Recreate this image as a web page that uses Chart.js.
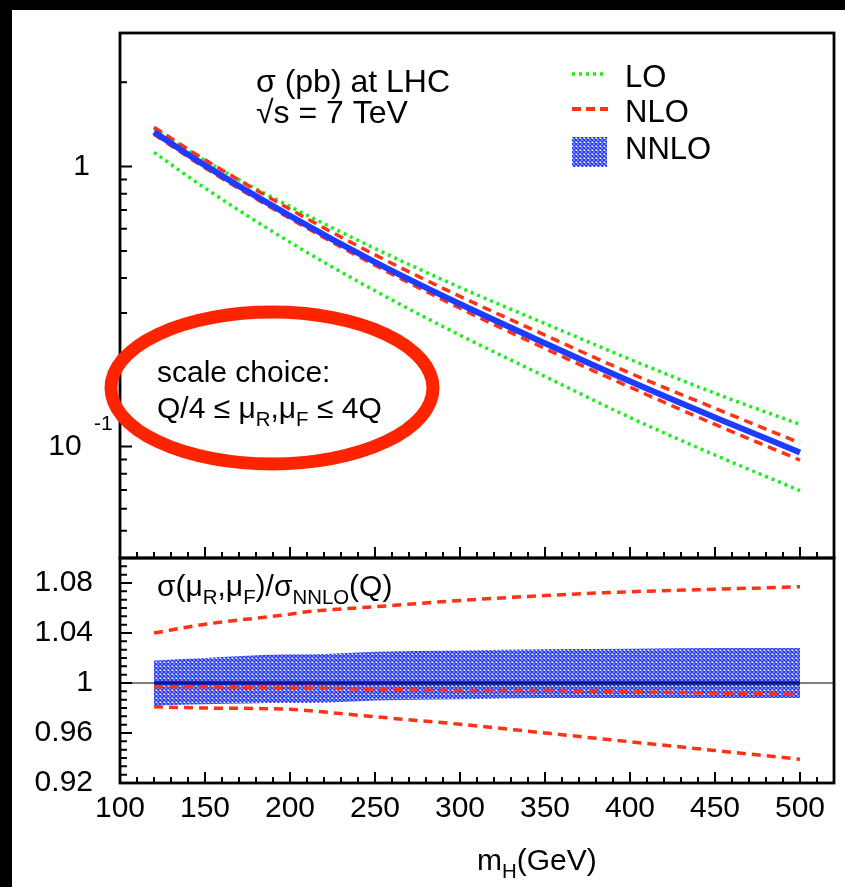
<!DOCTYPE html>
<html>
<head>
<meta charset="utf-8">
<script src="https://cdn.jsdelivr.net/npm/chart.js@4.4.0/dist/chart.umd.min.js"></script>
<style>
html, body { margin: 0; padding: 0; background: #000; width: 845px; height: 887px; overflow: hidden; }
#paper { position: absolute; left: 12px; top: 10px; width: 833px; height: 877px; background: #fff; }
canvas { position: absolute; left: 0; }
</style>
</head>
<body>
<div id="paper"></div>
<canvas id="chart-top" width="845" height="560" style="top:0px"></canvas>
<canvas id="chart-ratio" width="845" height="347" style="top:540px"></canvas>
<script>
FONT = '"Liberation Sans", Arial, sans-serif'

// m_H (GeV) -> sigma (pb), upper panel
MASS = [120, 150, 200, 250, 300, 350, 400, 450, 500]
NNLO_XS = [1.33, 1.01, 0.667, 0.456, 0.323, 0.234, 0.171, 0.127, 0.0953]
LO_UP = [1.37, 1.05, 0.72, 0.51, 0.37, 0.275, 0.205, 0.155, 0.12]
LO_DN = [1.124, 0.838, 0.537, 0.360, 0.250, 0.178, 0.127, 0.0933, 0.0696]
NLO_UP = [1.383, 1.057, 0.704, 0.484, 0.344, 0.250, 0.183, 0.137, 0.103]
NLO_DN = [1.305, 0.99, 0.653, 0.444, 0.312, 0.224, 0.163, 0.120, 0.0895]

// ratio panel sigma(muR,muF)/sigma_NNLO(Q)
RATIO_MASS = [120, 150, 200, 210, 250, 300, 350, 400, 450, 500]
NLO_UP_R = [1.040, 1.047, 1.055, 1.057, 1.061, 1.066, 1.070, 1.073, 1.075, 1.077]
NLO_MID_R = [0.997, 0.997, 0.996, 0.996, 0.995, 0.994, 0.994, 0.993, 0.992, 0.991]
NLO_DN_R = [0.981, 0.980, 0.979, 0.978, 0.973, 0.967, 0.960, 0.953, 0.946, 0.939]
NNLO_UP_R = [1.018, 1.020, 1.023, 1.023, 1.025, 1.026, 1.027, 1.0275, 1.028, 1.028]
NNLO_DN_R = [0.982, 0.983, 0.984, 0.984, 0.986, 0.987, 0.988, 0.988, 0.988, 0.988]
NNLO_MID_R = [1, 1, 1, 1, 1, 1, 1, 1, 1, 1]
UNITY_X = [100, 520]
UNITY_Y = [1, 1]

// axes
X_MIN = 100
X_MAX = 520
X_TICKS = [100, 150, 200, 250, 300, 350, 400, 450, 500]
Y_TOP_TICKS = [0.1, 1]
Y_TOP_LABELS = ['10 ', '1']
Y_TOP_MINOR = [0.04, 0.05, 0.06, 0.07, 0.08, 0.09, 0.2, 0.3, 0.4, 0.5, 0.6, 0.7, 0.8, 0.9, 2, 3]
Y_BOT_TICKS = [0.92, 0.96, 1, 1.04, 1.08]
Y_BOT_LABELS = ['0.92', '0.96', '1', '1.04', '1.08']

GREEN = '#19f019'
RED = '#ff3214'
BLUE = '#1e3cff'

function pts(xs, ys) {
    return xs.map((x, i) => ({x: x, y: ys[i]}))
}

function hatch() {
    var c = document.createElement('canvas')
    c.width = 4; c.height = 4
    var g = c.getContext('2d')
    g.strokeStyle = '#2436ff'
    g.lineWidth = 1.5
    g.beginPath()
    g.moveTo(0, 0); g.lineTo(4, 4)
    g.moveTo(4, 0); g.lineTo(0, 4)
    g.stroke()
    return g.createPattern(c, 'repeat')
}
HATCH = hatch()

function line(label, data, color, width, dash) {
    return {
        label: label,
        data: data,
        borderColor: color,
        borderWidth: width,
        borderDash: dash || [],
        pointRadius: 0,
        fill: false,
        cubicInterpolationMode: 'monotone'
    }
}

// text with sub/superscripts: parts = [[text, 0|1|2]]  1=sub 2=sup
function rich(ctx, x, y, parts, size) {
    ctx.textBaseline = 'alphabetic'
    ctx.textAlign = 'left'
    ctx.fillStyle = '#000'
    parts.forEach(p => {
        var s = p[1] ? size * 0.68 : size
        ctx.font = s + 'px ' + FONT
        var dy = p[1] == 1 ? size * 0.27 : (p[1] == 2 ? -size * 0.42 : 0)
        ctx.fillText(p[0], x, y + dy)
        x += ctx.measureText(p[0]).width
    })
}

function xMinorTicks() {
    var t = []
    for (var v = X_MIN; v <= X_MAX; v += 10) t.push(v)
    return t
}

function noPad(s) {
    s.paddingTop = 0
    s.paddingBottom = 0
    s.paddingLeft = 0
    s.paddingRight = 0
}

function frameAndTicks(chart, leftMajor, leftMinor, bottom) {
    var ctx = chart.ctx
    var a = chart.chartArea
    var xs = chart.scales.x, ys = chart.scales.y
    ctx.save()
    ctx.strokeStyle = '#000'
    ctx.lineWidth = 2
    ctx.beginPath()
    leftMajor.forEach(v => { var p = ys.getPixelForValue(v); ctx.moveTo(a.left, p); ctx.lineTo(a.left + 12, p) })
    leftMinor.forEach(v => { var p = ys.getPixelForValue(v); ctx.moveTo(a.left, p); ctx.lineTo(a.left + 7, p) })
    if (bottom) {
        xMinorTicks().forEach(v => {
            var p = xs.getPixelForValue(v)
            var len = (v % 50 == 0) ? 11 : 6
            ctx.moveTo(p, a.bottom); ctx.lineTo(p, a.bottom - len)
        })
    }
    ctx.stroke()
    ctx.lineWidth = 2.8
    ctx.strokeRect(a.left, a.top, a.right - a.left, a.bottom - a.top)
    ctx.restore()
}

function yAxis(min, max, type, ticks, labels, pad) {
    return {
        type: type,
        min: min,
        max: max,
        grid: {display: false, drawTicks: false},
        border: {display: false},
        afterBuildTicks: s => { s.ticks = ticks.map(v => ({value: v})) },
        afterFit: s => { s.width = 120; noPad(s) },
        ticks: {
            padding: pad,
            color: '#000',
            font: {family: FONT, size: 30},
            callback: v => labels[ticks.indexOf(v)] ?? ''
        }
    }
}

var topDecor = {
    id: 'topDecor',
    afterDraw(chart) {
        frameAndTicks(chart, Y_TOP_TICKS, Y_TOP_MINOR, true)
        var ctx = chart.ctx
        // superscript of the 10^-1 label
        rich(ctx, 94, chart.scales.y.getPixelForValue(0.1) - 17, [['-1', 0]], 21)

        rich(ctx, 256, 92, [['\u03c3 (pb) at LHC', 0]], 32)
        rich(ctx, 256, 123, [['\u221as = 7 TeV', 0]], 32)
        rich(ctx, 157, 382, [['scale choice:', 0]], 30)
        rich(ctx, 157, 418, [['Q/4 \u2264 \u03bc', 0], ['R', 1], [',\u03bc', 0], ['F', 1], [' \u2264 4Q', 0]], 30)

        // legend
        ctx.save()
        ctx.lineWidth = 3.5
        ctx.strokeStyle = GREEN
        ctx.setLineDash([3, 4])
        ctx.beginPath(); ctx.moveTo(572, 74); ctx.lineTo(603, 74); ctx.stroke()
        ctx.strokeStyle = RED
        ctx.lineWidth = 4
        ctx.setLineDash([9, 5])
        ctx.beginPath(); ctx.moveTo(572, 109); ctx.lineTo(608, 109); ctx.stroke()
        ctx.setLineDash([])
        ctx.fillStyle = HATCH
        ctx.fillRect(572, 137, 35, 30)
        ctx.restore()
        rich(ctx, 625, 87, [['LO', 0]], 31)
        rich(ctx, 625, 122, [['NLO', 0]], 31)
        rich(ctx, 625, 159, [['NNLO', 0]], 31)

        // red ellipse annotation
        ctx.save()
        ctx.strokeStyle = '#ff2400'
        ctx.lineWidth = 13
        ctx.beginPath()
        ctx.ellipse(272, 388, 161, 76, 0, 0, Math.PI * 2)
        ctx.stroke()
        ctx.restore()
    }
}

var ratioDecor = {
    id: 'ratioDecor',
    afterDraw(chart) {
        var minor = []
        for (var i = 0; i <= 27; i++) minor.push(0.92 + i * 0.04 / 6)
        frameAndTicks(chart, Y_BOT_TICKS, minor, true)
        var ctx = chart.ctx
        rich(ctx, 157, 56, [['\u03c3(\u03bc', 0], ['R', 1], [',\u03bc', 0], ['F', 1], [')/\u03c3', 0], ['NNLO', 1], ['(Q)', 0]], 30)
        rich(ctx, 477, 330, [['m', 0], ['H', 1], ['(GeV)', 0]], 30)
    }
}

new Chart('chart-top', {
    type: 'line',
    data: {
        datasets: [
            line('NNLO', pts(MASS, NNLO_XS), BLUE, 6),
            line('NLO up', pts(MASS, NLO_UP), RED, 3.5, [9, 6]),
            line('NLO down', pts(MASS, NLO_DN), RED, 3.5, [9, 6]),
            line('LO up', pts(MASS, LO_UP), GREEN, 3.5, [3, 4]),
            line('LO down', pts(MASS, LO_DN), GREEN, 3.5, [3, 4])
        ]
    },
    options: {
        responsive: false,
        animation: false,
        devicePixelRatio: 1,
        layout: {padding: {top: 33, right: 11, bottom: 2, left: 0}},
        plugins: {legend: {display: false}, tooltip: {enabled: false}},
        scales: {
            x: {type: 'linear', min: X_MIN, max: X_MAX, display: false},
            y: yAxis(0.04, 3, 'logarithmic', Y_TOP_TICKS, Y_TOP_LABELS, 30)
        }
    },
    plugins: [topDecor]
})

var band = line('NNLO band up', pts(RATIO_MASS, NNLO_UP_R), 'rgba(0,0,0,0)', 0)
band.fill = '+1'
band.backgroundColor = HATCH

new Chart('chart-ratio', {
    type: 'line',
    data: {
        datasets: [
            line('NNLO central', pts(RATIO_MASS, NNLO_MID_R), '#14148c', 3.5),
            line('unity', pts(UNITY_X, UNITY_Y), '#000', 1),
            line('NLO central', pts(RATIO_MASS, NLO_MID_R), RED, 3.5, [9, 6]),
            line('NLO up', pts(RATIO_MASS, NLO_UP_R), RED, 3.5, [9, 6]),
            line('NLO down', pts(RATIO_MASS, NLO_DN_R), RED, 3.5, [9, 6]),
            band,
            line('NNLO band down', pts(RATIO_MASS, NNLO_DN_R), 'rgba(0,0,0,0)', 0)
        ]
    },
    options: {
        responsive: false,
        animation: false,
        devicePixelRatio: 1,
        layout: {padding: {top: 18, right: 11, bottom: 0, left: 0}},
        plugins: {legend: {display: false}, tooltip: {enabled: false}},
        scales: {
            x: {
                type: 'linear',
                min: X_MIN,
                max: X_MAX,
                grid: {display: false, drawTicks: false},
                border: {display: false},
                afterBuildTicks: s => { s.ticks = X_TICKS.map(v => ({value: v})) },
                afterFit: s => { s.height = 104; noPad(s) },
                ticks: {
                    padding: 8,
                    maxRotation: 0,
                    autoSkip: false,
                    color: '#000',
                    font: {family: FONT, size: 30},
                    callback: v => String(v)
                }
            },
            y: yAxis(0.92, 1.10, 'linear', Y_BOT_TICKS, Y_BOT_LABELS, 27)
        }
    },
    plugins: [ratioDecor]
})
</script>
</body>
</html>
